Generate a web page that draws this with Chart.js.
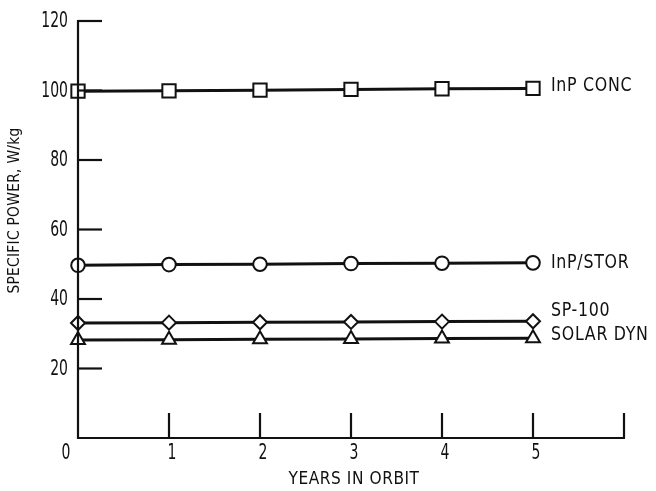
<!DOCTYPE html>
<html>
<head>
<meta charset="utf-8">
<script src="https://cdn.jsdelivr.net/npm/chart.js@4/dist/chart.umd.min.js"></script>
<style>
  html, body { margin: 0; padding: 0; background: #fff; }
  #wrap { width: 656px; height: 491px; }
</style>
</head>
<body>
<div id="wrap"><canvas id="c" width="656" height="491"></canvas></div>
<script>
// ---- data ----
const years = [0, 1, 2, 3, 4, 5];
const inpConc = [99.8, 99.9, 100.1, 100.3, 100.5, 100.6];
const inpStor = [49.7, 49.9, 50.0, 50.2, 50.3, 50.4];
const sp100   = [33.1, 33.2, 33.3, 33.4, 33.5, 33.6];
const solarDyn = [28.2, 28.3, 28.4, 28.5, 28.6, 28.7];
const seriesNames = ['InP CONC', 'InP/STOR', 'SP-100', 'SOLAR DYN'];
const yTickValues = [20, 40, 60, 80, 100, 120];
const xTickValues = [1, 2, 3, 4, 5, 6];
const xTickLabels = ['0', '1', '2', '3', '4', '5'];
const xTitle = 'YEARS IN ORBIT';
const yTitle = 'SPECIFIC POWER, W/kg';

const FONT = '"DejaVu Sans Condensed", "DejaVu Sans", sans-serif';
const INK = '#111';

function pts(arr) { return arr.map((v, i) => ({ x: years[i], y: v })); }

const styles = [
  { pointStyle: 'rect', pointRadius: 9.4 },
  { pointStyle: 'circle', pointRadius: 6.8 },
  { pointStyle: 'rectRot', pointRadius: 7 },
  { pointStyle: 'triangle', pointRadius: 8 }
];
const labelDy = [-2.5, 0, -10, -3];

const seriesData = [inpConc, inpStor, sp100, solarDyn];

const datasets = seriesData.map((arr, i) => ({
  label: seriesNames[i],
  data: pts(arr),
  borderColor: INK,
  borderWidth: 3,
  pointStyle: styles[i].pointStyle,
  pointRadius: styles[i].pointRadius,
  pointBorderWidth: 2,
  pointBackgroundColor: '#fff',
  pointBorderColor: INK,
  tension: 0,
  clip: false
}));

function txt(ctx, s, x, y, size, align, sx, spacing) {
  ctx.save();
  ctx.translate(x, y);
  ctx.scale(sx, 1);
  ctx.font = size + 'px ' + FONT;
  ctx.textAlign = align;
  try { ctx.letterSpacing = (spacing || 0) + 'px'; } catch (e) {}
  ctx.fillText(s, 0, 0);
  ctx.restore();
}

const axesPlugin = {
  id: 'axesPlugin',
  afterDatasetsDraw(chart) {
    const ctx = chart.ctx;
    const xs = chart.scales.x, ys = chart.scales.y;
    const x0 = xs.getPixelForValue(0), x6 = xs.getPixelForValue(6);
    const y0 = ys.getPixelForValue(0), y120 = ys.getPixelForValue(120);
    ctx.save();
    ctx.strokeStyle = INK;
    ctx.lineWidth = 2.2;
    ctx.lineCap = 'butt';
    // axes
    ctx.beginPath();
    ctx.moveTo(x0, y120 - 1);
    ctx.lineTo(x0, y0);
    ctx.lineTo(x6 + 1, y0);
    ctx.stroke();
    // y ticks (inward)
    yTickValues.forEach(v => {
      const py = ys.getPixelForValue(v);
      ctx.beginPath();
      ctx.moveTo(x0, py);
      ctx.lineTo(x0 + 24, py);
      ctx.stroke();
    });
    // x ticks (inward)
    xTickValues.forEach(v => {
      const px = xs.getPixelForValue(v);
      ctx.beginPath();
      ctx.moveTo(px, y0);
      ctx.lineTo(px, y0 - 25);
      ctx.stroke();
    });
    ctx.fillStyle = INK;
    ctx.textBaseline = 'middle';
    // y tick labels
    yTickValues.forEach(v => {
      txt(ctx, String(v), x0 - 10, ys.getPixelForValue(v) + 1, 21, 'right', 0.74, 0);
    });
    // x tick labels
    xTickLabels.forEach((t, i) => {
      const px = xs.getPixelForValue(i) + (i === 0 ? -12 : 3);
      txt(ctx, t, px, y0 + 16, 21, 'center', 0.74, 0);
    });
    // titles
    txt(ctx, xTitle, (x0 + x6) / 2 + 3, y0 + 41, 18, 'center', 0.95, 0.6);
    ctx.save();
    ctx.translate(15, (y0 + y120) / 2 - 19);
    ctx.rotate(-Math.PI / 2);
    txt(ctx, yTitle, 0, 0, 16.5, 'center', 0.93, 0.3);
    ctx.restore();
    // series end labels
    chart.data.datasets.forEach((ds, i) => {
      const meta = chart.getDatasetMeta(i);
      const last = meta.data[meta.data.length - 1];
      txt(ctx, ds.label, last.x + 18, last.y + labelDy[i], 20, 'left', 0.88, 0.8);
    });
    ctx.restore();
  }
};

new Chart(document.getElementById('c'), {
  type: 'line',
  data: { datasets },
  options: {
    responsive: false,
    animation: false,
    events: [],
    layout: { padding: { left: 78, top: 21, right: 32, bottom: 53 } },
    plugins: { legend: { display: false }, tooltip: { enabled: false } },
    scales: {
      x: { type: 'linear', min: 0, max: 6, display: false },
      y: { type: 'linear', min: 0, max: 120, display: false }
    }
  },
  plugins: [axesPlugin]
});
</script>
</body>
</html>
